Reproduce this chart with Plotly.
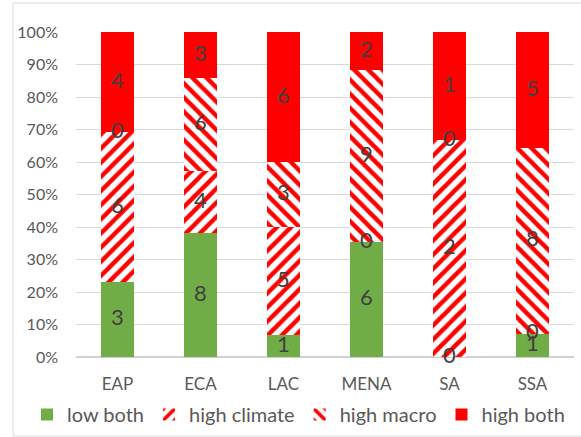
import plotly.graph_objects as go

# Regions and number of countries in each risk group
regions = ["EAP", "ECA", "LAC", "MENA", "SA", "SSA"]
low_both = [3, 8, 1, 6, 0, 1]
high_climate = [6, 4, 5, 0, 2, 0]
high_macro = [0, 6, 3, 9, 0, 8]
high_both = [4, 3, 6, 2, 1, 5]
y_ticks = [0, 10, 20, 30, 40, 50, 60, 70, 80, 90, 100]
y_tick_labels = [f"{v}%" for v in y_ticks]

series = [
    ("low both", low_both, dict(color="#70AD47")),
    ("high climate", high_climate,
     dict(color="white", pattern=dict(shape="/", fgcolor="#FF0000", bgcolor="white",
                                      size=10, solidity=0.45, fillmode="replace"))),
    ("high macro", high_macro,
     dict(color="white", pattern=dict(shape="\\", fgcolor="#FF0000", bgcolor="white",
                                      size=10, solidity=0.45, fillmode="replace"))),
    ("high both", high_both, dict(color="#FF0000")),
]

totals = [sum(v) for v in zip(low_both, high_climate, high_macro, high_both)]

FONT = "Lato, Carlito, Calibri, sans-serif"
fig = go.Figure()

base = [0.0] * len(regions)
label_x, label_y, label_t = [], [], []
for name, counts, marker in series:
    pct = [100.0 * c / t for c, t in zip(counts, totals)]
    fig.add_trace(go.Bar(
        x=regions, y=pct, name=name, width=0.4,
        marker=dict(line=dict(width=0), **marker),
        hoverinfo="skip",
    ))
    for i, (c, p) in enumerate(zip(counts, pct)):
        label_x.append(regions[i])
        label_y.append(base[i] + p / 2)
        label_t.append(str(c))
        base[i] += p

# Count labels centred in each stacked segment
fig.add_trace(go.Scatter(
    x=label_x, y=label_y, text=label_t, mode="text",
    textfont=dict(family=FONT, size=22, color="#404040"),
    showlegend=False, hoverinfo="skip", cliponaxis=False,
))

W, H = 581, 437
L, R, T, B = 76, 7, 32, 80
pw, ph = W - L - R, H - T - B


def px(xp):
    return (xp - L) / pw


def py(yp):
    return 1 - (yp - T) / ph


# Light chart frame
fig.add_shape(type="rect", xref="paper", yref="paper",
              x0=px(13), x1=px(590), y0=py(436), y1=py(3),
              line=dict(color="#D9D9D9", width=1), fillcolor="rgba(0,0,0,0)", layer="below")

fig.update_layout(
    width=W, height=H,
    margin=dict(l=L, r=R, t=T, b=B, autoexpand=False),
    barmode="stack",
    bargap=0.6,
    plot_bgcolor="white", paper_bgcolor="white",
    font=dict(family=FONT, size=17, color="#595959"),
    showlegend=True,
    legend=dict(orientation="h", x=px(27), xanchor="left", y=py(395), yanchor="top",
                font=dict(family=FONT, size=20, color="#595959"),
                itemwidth=30, tracegroupgap=0, traceorder="normal"),
    xaxis=dict(showgrid=False, showline=False, zeroline=False, automargin=False,
               ticks="outside", ticklen=12, tickcolor="rgba(0,0,0,0)",
               tickfont=dict(family=FONT, size=17, color="#595959")),
    yaxis=dict(range=[0, 100], tickvals=y_ticks, ticktext=y_tick_labels, automargin=False,
               showgrid=True, gridcolor="#D9D9D9", gridwidth=1,
               zeroline=True, zerolinecolor="#D0D0D0", zerolinewidth=2,
               showline=False, ticklabelstandoff=17,
               tickfont=dict(family=FONT, size=16, color="#595959")),
)

fig.write_html("out.html")
